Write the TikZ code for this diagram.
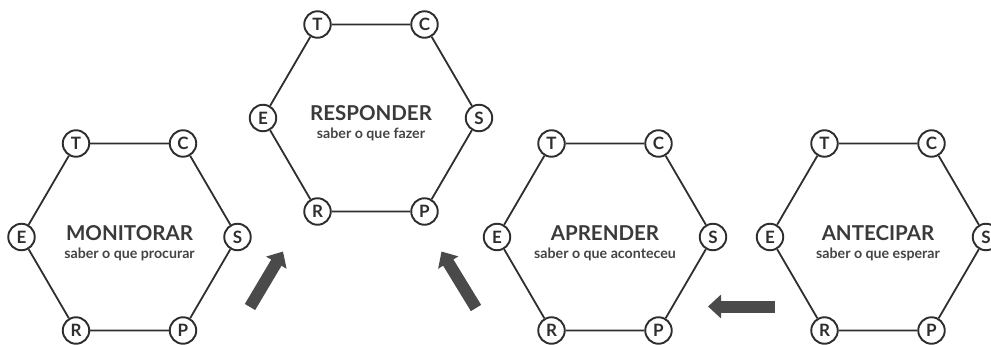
\documentclass[tikz,border=0pt]{standalone}
\usepackage{fontspec}
\setmainfont{Lato}
\usetikzlibrary{arrows.meta}
\definecolor{ink}{HTML}{2E2E2E}
\definecolor{titlec}{HTML}{3A3A3A}
\definecolor{subc}{HTML}{444444}
\definecolor{arrowc}{HTML}{4A4A4A}
\tikzset{
  lbl/.style={circle,draw=ink,line width=1.9pt,fill=white,minimum size=26.5pt,inner sep=0pt,
    font=\fontsize{17}{17}\selectfont\bfseries,text=ink},
  edge/.style={draw=ink,line width=1.8pt},
  ttl/.style={font=\fontsize{20.5}{20}\selectfont\bfseries,text=titlec,anchor=base,inner sep=0pt},
  sub/.style={font=\fontsize{14.2}{14}\selectfont\bfseries,text=subc,anchor=base,inner sep=0pt},
  bigarrow/.style={draw=arrowc,line width=12pt,-{Triangle[width=23pt,length=13pt]}}
}
\newcommand{\hexcell}[5]{%
  \node[lbl] (#1T) at (#2-53.5,#3-93.5) {T};
  \node[lbl] (#1C) at (#2+53.5,#3-93.5) {C};
  \node[lbl] (#1S) at (#2+108,#3) {S};
  \node[lbl] (#1P) at (#2+53.5,#3+93.5) {P};
  \node[lbl] (#1R) at (#2-53.5,#3+93.5) {R};
  \node[lbl] (#1E) at (#2-108,#3) {E};
  \draw[edge] (#1T)--(#1C) (#1C)--(#1S) (#1S)--(#1P) (#1P)--(#1R) (#1R)--(#1E) (#1E)--(#1T);
  \node[ttl] (#1ttl) at (#2,#3+3) {#4};
  \node[sub] (#1sub) at (#2,#3+21) {#5};
}
\begin{document}
\begin{tikzpicture}[x=1pt,y=-1pt]
\useasboundingbox (0,0) rectangle (991,345);
\hexcell{m}{129.5}{237}{MONITORAR}{saber o que procurar}
\hexcell{r}{371}{118}{RESPONDER}{saber o que fazer}
\hexcell{a}{605}{237}{APRENDER}{saber o que aconteceu}
\hexcell{n}{878}{237}{ANTECIPAR}{saber o que esperar}
\coordinate (a1s) at (250,307);
\coordinate (a1e) at (283,251.5);
\coordinate (a2s) at (476,308);
\coordinate (a2e) at (441.5,251.5);
\coordinate (a3s) at (774.5,306.5);
\coordinate (a3e) at (708,306.5);
\draw[bigarrow] (a1s) -- (a1e);
\draw[bigarrow] (a2s) -- (a2e);
\draw[bigarrow] (a3s) -- (a3e);
\end{tikzpicture}
\end{document}
